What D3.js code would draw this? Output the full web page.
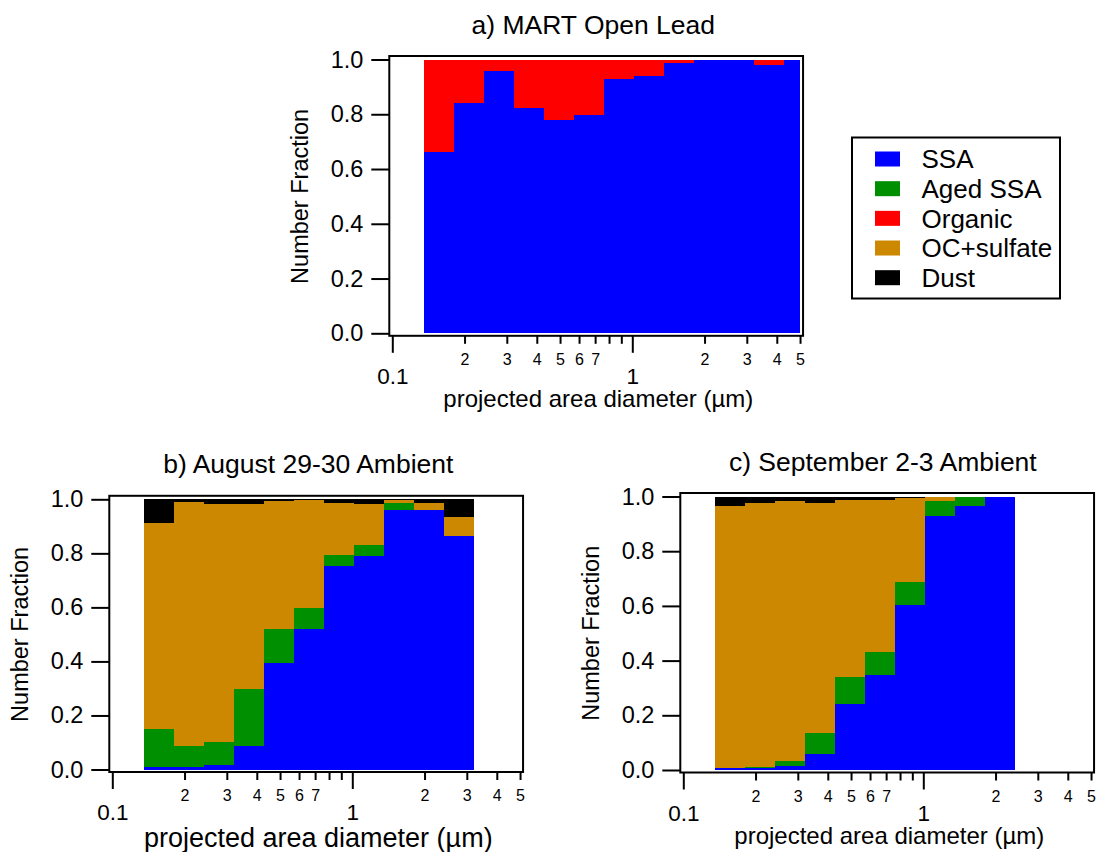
<!DOCTYPE html>
<html>
<head>
<meta charset="utf-8">
<script src="https://cdn.jsdelivr.net/npm/d3@7"></script>
<style>
  html, body { margin: 0; padding: 0; background: #ffffff; }
  svg text { font-family: "Liberation Sans", Arial, Helvetica, sans-serif; fill: #000; }
</style>
</head>
<body>
<svg id="fig" width="1099" height="852"></svg>
<script>
// Particle classes, in stacking order (bottom to top)
const categories = ["SSA", "Aged SSA", "Organic", "OC+sulfate", "Dust"];
const categoryColors = ["#0000ff", "#008f00", "#ff0000", "#cc8800", "#000000"];

// Size bin edges, projected area diameter (µm)
const binEdges = [0.135, 0.18, 0.24, 0.32, 0.427, 0.569, 0.759, 1.012, 1.35, 1.8, 2.4, 3.2, 4.27, 5.69];

// a) MART Open Lead — number fraction per bin
const martSSA     = [0.663, 0.840, 0.957, 0.822, 0.780, 0.798, 0.929, 0.941, 0.987, 1.000, 1.000, 0.979, 1.000];
const martOrganic = [0.337, 0.160, 0.043, 0.178, 0.220, 0.202, 0.071, 0.059, 0.013, 0.000, 0.000, 0.021, 0.000];

// b) August 29-30 Ambient
const augSSA   = [0.009, 0.010, 0.016, 0.086, 0.393, 0.520, 0.754, 0.789, 0.961, 0.961, 0.864];
const augAged  = [0.141, 0.076, 0.087, 0.211, 0.128, 0.079, 0.041, 0.041, 0.024, 0.000, 0.000];
const augOCsul = [0.761, 0.905, 0.880, 0.687, 0.473, 0.400, 0.191, 0.154, 0.013, 0.025, 0.071];
const augDust  = [0.089, 0.009, 0.017, 0.016, 0.006, 0.001, 0.014, 0.016, 0.002, 0.014, 0.065];

// c) September 2-3 Ambient
const sepSSA   = [0.006, 0.006, 0.015, 0.057, 0.243, 0.348, 0.604, 0.927, 0.966, 1.000];
const sepAged  = [0.000, 0.004, 0.018, 0.078, 0.098, 0.085, 0.083, 0.055, 0.034, 0.000];
const sepOCsul = [0.961, 0.966, 0.951, 0.843, 0.646, 0.555, 0.308, 0.018, 0.000, 0.000];
const sepDust  = [0.033, 0.024, 0.016, 0.022, 0.013, 0.012, 0.005, 0.000, 0.000, 0.000];

// Axis ticks
const yTickValues = [0, 0.2, 0.4, 0.6, 0.8, 1.0];
const xMajorTicks = [0.1, 1];
const xMinorTicks = [0.2, 0.3, 0.4, 0.5, 0.6, 0.7, 0.8, 0.9, 2, 3, 4, 5];
const xMinorLabels = ["2", "3", "4", "5", "6", "7", "", "", "2", "3", "4", "5"];

const svg = d3.select("#fig");
const decade = 240;                       // pixels per decade on the size axis
const plotW = decade * Math.log10(5 / 0.1);

function drawPanel(p) {
  const x = d3.scaleLog().domain([0.1, 5]).range([p.x0, p.x0 + plotW]).clamp(true);
  const y = d3.scaleLinear().domain([0, 1]).range([p.yBot, p.yTop]);
  const g = svg.append("g");

  const rows = p.series[0].values.map((_, i) => {
    const r = { lo: binEdges[i], hi: binEdges[i + 1] };
    categories.forEach(c => r[c] = 0);
    p.series.forEach(s => r[s.key] = s.values[i]);
    return r;
  });
  const layers = d3.stack().keys(categories)(rows);

  layers.forEach((layer, li) => {
    g.append("g").attr("fill", categoryColors[li])
      .selectAll("rect").data(layer.filter(d => d[1] - d[0] > 0)).join("rect")
      .attr("shape-rendering", "crispEdges")
      .attr("x", d => x(d.data.lo))
      .attr("width", d => x(d.data.hi) - x(d.data.lo))
      .attr("y", d => y(d[1]))
      .attr("height", d => y(d[0]) - y(d[1]));
  });

  const fL = p.x0 - 3, fR = p.x0 + plotW + 3, fT = p.yTop - 3.5, fB = p.yBot + 2.5;
  g.append("rect").attr("x", fL).attr("y", fT).attr("width", fR - fL).attr("height", fB - fT)
    .attr("fill", "none").attr("stroke", "#000").attr("stroke-width", 2);

  // y axis
  const ya = g.append("g").attr("transform", `translate(${fL},0)`)
    .call(d3.axisLeft(y).tickValues(yTickValues).tickSize(18).tickPadding(8).tickFormat(d3.format(".1f")));
  ya.select(".domain").remove();
  ya.selectAll("line").attr("stroke-width", 2);
  ya.selectAll("text").attr("font-size", 23.5).attr("font-family", null);

  // x axis, major and minor ticks
  const xa = g.append("g").attr("transform", `translate(0,${fB})`)
    .call(d3.axisBottom(x).tickValues(xMajorTicks).tickSize(17).tickFormat(d3.format("")));
  xa.select(".domain").remove();
  xa.selectAll("line").attr("stroke-width", 2);
  xa.selectAll("text").attr("font-size", 22.5).attr("font-family", null).attr("y", 48).attr("dy", 0);

  const xm = g.append("g").attr("transform", `translate(0,${fB})`)
    .call(d3.axisBottom(x).tickValues(xMinorTicks).tickSize(8).tickFormat((d, i) => xMinorLabels[i]));
  xm.select(".domain").remove();
  xm.selectAll("line").attr("stroke-width", 2);
  xm.selectAll("text").attr("font-size", 16).attr("font-family", null).attr("y", 29).attr("dy", 0);

  g.selectAll(".tick text").attr("fill", "#000");

  // titles
  g.append("text").attr("x", p.x0 + p.titleDx).attr("y", p.yTop - 26)
    .attr("text-anchor", "middle").attr("font-size", 26.5).text(p.title);
  g.append("text").attr("x", p.x0 + 206).attr("y", fB + p.xTitleDy)
    .attr("text-anchor", "middle").attr("font-size", p.xTitleSize).text("projected area diameter (µm)");
  g.append("text")
    .attr("transform", `translate(${p.x0 - 93},${(p.yTop + p.yBot) / 2}) rotate(-90)`)
    .attr("dy", "0.35em").attr("text-anchor", "middle").attr("font-size", 23.5).text("Number Fraction");
}

drawPanel({
  x0: 392.3, yTop: 59.5, yBot: 333.3, title: "a) MART Open Lead", titleDx: 201,
  xTitleSize: 24, xTitleDy: 71,
  series: [{ key: "SSA", values: martSSA }, { key: "Organic", values: martOrganic }]
});
drawPanel({
  x0: 112.3, yTop: 499.3, yBot: 769.5, title: "b) August 29-30 Ambient", titleDx: 196,
  xTitleSize: 27, xTitleDy: 75,
  series: [{ key: "SSA", values: augSSA }, { key: "Aged SSA", values: augAged },
           { key: "OC+sulfate", values: augOCsul }, { key: "Dust", values: augDust }]
});
drawPanel({
  x0: 683.3, yTop: 496.5, yBot: 770, title: "c) September 2-3 Ambient", titleDx: 199.5,
  xTitleSize: 24, xTitleDy: 71,
  series: [{ key: "SSA", values: sepSSA }, { key: "Aged SSA", values: sepAged },
           { key: "OC+sulfate", values: sepOCsul }, { key: "Dust", values: sepDust }]
});

// legend
const legend = svg.append("g");
legend.append("rect").attr("x", 852).attr("y", 137.5).attr("width", 208).attr("height", 161)
  .attr("fill", "#fff").attr("stroke", "#000").attr("stroke-width", 2);
const rowY = d3.scalePoint().domain(categories).range([159, 277.7]);
categories.forEach((c, i) => {
  legend.append("rect").attr("x", 875).attr("y", rowY(c) - 7.5).attr("width", 25).attr("height", 15)
    .attr("fill", categoryColors[i]);
  legend.append("text").attr("x", 921.5).attr("y", rowY(c)).attr("dy", "0.36em")
    .attr("font-size", 26).text(c);
});
</script>
</body>
</html>
